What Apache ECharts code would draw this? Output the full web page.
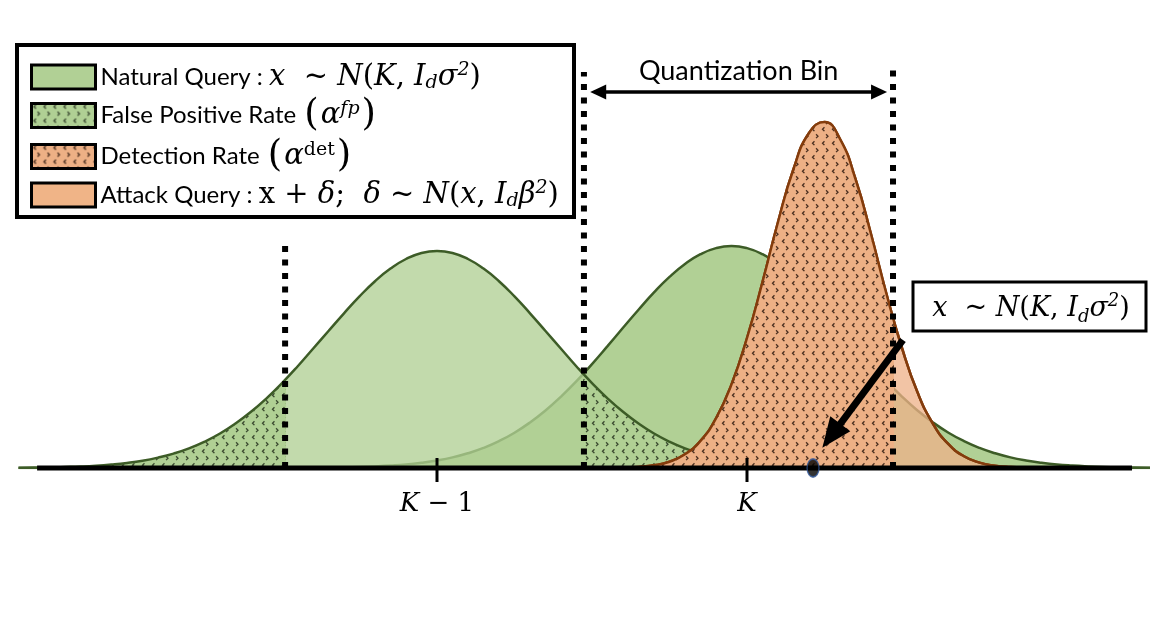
<!DOCTYPE html>
<html>
<head>
<meta charset="utf-8">
<script src="https://cdn.jsdelivr.net/npm/echarts@6/dist/echarts.min.js"></script>
<style>
html,body{margin:0;padding:0;background:#fff;}
#c{width:1168px;height:634px;}
</style>
</head>
<body>
<div id="c"></div>
<script>
// ---------------- data ----------------
// x in units where K = 0 and K-1 = -1 (sampled every 0.05)
const naturalX = [-2.35,-2.30,-2.25,-2.20,-2.15,-2.10,-2.05,-2.00,-1.95,-1.90,-1.85,-1.80,-1.75,-1.70,-1.65,-1.60,-1.55,-1.50,
  -1.45,-1.40,-1.35,-1.30,-1.25,-1.20,-1.15,-1.10,-1.05,-1.00,-0.95,-0.90,-0.85,-0.80,-0.75,-0.70,-0.65,-0.60,-0.55,-0.50,
  -0.45,-0.40,-0.35,-0.30,-0.25,-0.20,-0.15,-0.10,-0.05,0.00,0.05,0.10,0.15,0.20,0.25,0.30,0.35,0.40,0.45,0.50,0.55,0.60,
  0.65,0.70,0.75,0.80,0.85,0.90,0.95,1.00,1.05,1.10,1.15,1.20,1.25,1.30];
// natural-query density around K-1
const naturalPrevY = [0.002,0.004,0.006,0.010,0.015,0.023,0.035,0.051,0.073,0.104,0.144,0.196,0.263,0.345,0.445,0.562,0.697,0.849,
  1.015,1.192,1.370,1.547,1.716,1.868,1.994,2.090,2.150,2.170,2.150,2.090,1.994,1.868,1.716,1.547,1.370,1.192,1.015,0.849,
  0.697,0.562,0.445,0.345,0.263,0.196,0.144,0.104,0.073,0.051,0.035,0.023,0.015,0.010,0.006,0.004,0.002,0.001,0,0,0,0,
  0,0,0,0,0,0,0,0,0,0,0,0,0,0];
// natural-query density around K
const naturalY = [0,0,0,0,0,0,0,0,0,0,0,0,0,0,0,0,0,0,
  0.001,0.002,0.004,0.006,0.010,0.016,0.024,0.035,0.052,0.075,0.106,0.148,0.201,0.269,0.353,0.455,0.575,0.714,0.868,1.039,
  1.219,1.402,1.583,1.756,1.911,2.040,2.138,2.199,2.220,2.199,2.138,2.040,1.911,1.756,1.583,1.402,1.219,1.039,0.868,0.714,0.575,0.455,
  0.353,0.269,0.201,0.148,0.106,0.075,0.052,0.035,0.024,0.016,0.010,0.006,0.004,0.002];
// attack-query density
const attackX = [-0.45,-0.40,-0.35,-0.30,-0.25,-0.20,-0.15,-0.10,-0.05,0.00,0.05,0.10,0.15,0.20,0.25,0.30,0.35,0.40,0.45,0.50,0.55,0.60,0.65,0.70,0.75,0.80,0.85,0.90,0.95];
const attackY = [0.001,0.004,0.011,0.027,0.063,0.137,0.271,0.496,0.836,1.30,1.86,2.46,2.99,3.35,3.46,3.29,2.89,2.34,1.74,1.20,0.757,0.442,0.238,0.118,0.054,0.023,0.009,0.003,0.001];
// quantization bin edges (dotted lines) and their heights
const binEdges = [-1.49, -0.526, 0.471];
const binEdgeTops = [2.25, 3.96, 4.0];
// axis ticks (value, bottom, top)
const tickValues = [-1, 0];
const tickSpan = [-0.14, 0.10];
const tickLabels = ['{i|K}{n| − 1}', '{i|K}'];
// baseline extent
const axisSpan = [-2.29, 1.242];
// sample point x
const samplePoint = [[0.213, 0]];
// "Quantization Bin" double arrow
const binArrowX = [-0.48, 0.426];
const binArrowY = 3.76;
// pointer arrow from the annotation to the sample
const pointerFrom = [0.503, 1.28];
const pointerTo = [0.272, 0.322];
// legend entries
const legendNames = ['Natural Query', 'False Positive Rate', 'Detection Rate', 'Attack Query'];
const legendTexts = {
  'Natural Query': '{t|Natural Query : }{m|x}{r|  ~ }{m|N}{r|(}{m|K}{r|, }{m|I}{sub|d}{m|σ}{sup|2}{r|)}',
  'False Positive Rate': '{t|False Positive Rate }{P|(}{m|α}{sup|fp}{P|)}',
  'Detection Rate': '{t|Detection Rate }{P|(}{m|α}{supr|det}{P|)}',
  'Attack Query': '{t|Attack Query : }{r|x + }{m|δ}{r|;  }{m|δ}{r| ~ }{m|N}{r|(}{m|x}{r|, }{m|I}{sub|d}{m|β}{sup|2}{r|)}'
};
const annotationText = '{m|x}{r|  ~ }{m|N}{r|(}{m|K}{r|, }{m|I}{sub|d}{m|σ}{sup|2}{r|)}';

// ---------------- styling ----------------
const MATH = "'DejaVu Serif', serif";
const TXT = "Lato, 'Open Sans', sans-serif";
const GREEN = '#b1d095';
const GREEN_LINE = '#3d5c27';
const ORANGE_LINE = '#843c0c';
const ORANGE_FILL = 'rgba(238,178,137,0.76)';

function hatch(bg, fg) {
  const c = document.createElement('canvas');
  c.width = 10; c.height = 14;
  const g = c.getContext('2d');
  g.fillStyle = bg; g.fillRect(0, 0, 10, 14);
  g.strokeStyle = fg; g.lineWidth = 1.3; g.lineCap = 'square';
  g.beginPath();
  g.moveTo(4.0, 1.7); g.lineTo(2.5, 3.2); g.lineTo(4.0, 4.7);
  g.moveTo(6.5, 8.7); g.lineTo(8.0, 10.2); g.lineTo(6.5, 11.7);
  g.stroke();
  return { image: c, repeat: 'repeat' };
}
const hatchG = hatch('#b0d094', '#3b4a30');
const hatchO = hatch('#edb085', '#4a2f20');

function mathRich(s, textSize, lh, parenScale) {
  const sm = Math.round(s * 0.66);
  return {
    t: { fontFamily: TXT, fontSize: textSize, lineHeight: lh, color: '#000' },
    m: { fontFamily: MATH, fontStyle: 'italic', fontSize: s, lineHeight: lh, color: '#000' },
    r: { fontFamily: MATH, fontSize: s, lineHeight: lh, color: '#000' },
    P: { fontFamily: MATH, fontSize: Math.round(s * parenScale), lineHeight: lh, color: '#000', padding: [0, 2, 0, 2] },
    sub: { fontFamily: MATH, fontStyle: 'italic', fontSize: sm, lineHeight: Math.round(lh * 0.47), verticalAlign: 'bottom', color: '#000' },
    sup: { fontFamily: MATH, fontStyle: 'italic', fontSize: sm, lineHeight: Math.round(lh * 0.62), verticalAlign: 'top', color: '#000' },
    supr: { fontFamily: MATH, fontSize: sm, lineHeight: Math.round(lh * 0.62), verticalAlign: 'top', color: '#000' }
  };
}

// ---------------- layout ----------------
const W = 1168;
const X_MIN = -2.4, X_MAX = 1.35, Y_MAX = 4;
const PLOT = { left: 3, right: 2.5, top: 68, bottom: 166 };
const unit = (W - PLOT.left - PLOT.right) / (X_MAX - X_MIN);
const xpx = v => PLOT.left + (v - X_MIN) * unit;
const ranges = [[X_MIN, X_MAX], [X_MIN, binEdges[0]], [binEdges[1], X_MAX], [binEdges[1], binEdges[2]]];
const grids = ranges.map(r => ({
  left: xpx(r[0]), right: W - xpx(r[1]), top: PLOT.top, bottom: PLOT.bottom,
  outerBoundsMode: 'none', containLabel: false
}));
const xAxes = ranges.map((r, i) => {
  if (i > 0) return { gridIndex: i, type: 'value', min: r[0], max: r[1], show: false };
  return {
    gridIndex: 0, type: 'value', min: r[0], max: r[1], z: 15,
    axisLine: { show: false }, splitLine: { show: false },
    axisTick: { show: false },
    axisLabel: {
      show: true, customValues: tickValues, margin: 21,
      formatter: v => tickLabels[tickValues.indexOf(v)],
      rich: {
        i: { fontFamily: MATH, fontStyle: 'italic', fontSize: 26, lineHeight: 30, color: '#000' },
        n: { fontFamily: MATH, fontSize: 26, lineHeight: 30, color: '#000' }
      }
    }
  };
});
const yAxes = ranges.map((r, i) => ({ gridIndex: i, type: 'value', min: 0, max: Y_MAX, show: false }));

const pts = (xs, ys) => xs.map((x, i) => [x, ys[i]]);
const curve = { type: 'line', smooth: 0.5, symbol: 'none', showSymbol: false, silent: true, animation: false, emphasis: { disabled: true } };
const noLine = { opacity: 0, width: 0 };

const series = [
  Object.assign({}, curve, { name: 'Natural Query', color: GREEN, data: pts(naturalX, naturalY), lineStyle: { color: GREEN_LINE, width: 2.5 }, areaStyle: { color: GREEN, opacity: 1 }, z: 2 }),
  Object.assign({}, curve, { name: 'Natural Query', color: GREEN, data: pts(naturalX, naturalPrevY), lineStyle: noLine, areaStyle: { color: GREEN, opacity: 0.78 }, z: 3 }),
  Object.assign({}, curve, { name: 'False Positive Rate', xAxisIndex: 1, yAxisIndex: 1, data: pts(naturalX, naturalPrevY), lineStyle: noLine, areaStyle: { color: hatchG, opacity: 1 }, z: 4 }),
  Object.assign({}, curve, { name: 'False Positive Rate', xAxisIndex: 2, yAxisIndex: 2, data: pts(naturalX, naturalPrevY), lineStyle: noLine, areaStyle: { color: hatchG, opacity: 1 }, z: 4 }),
  Object.assign({}, curve, { name: 'Natural Query', color: GREEN, data: pts(naturalX, naturalPrevY), lineStyle: { color: GREEN_LINE, width: 2.5 }, z: 5 }),
  Object.assign({}, curve, { name: 'Attack Query', color: '#f0b487', data: pts(attackX, attackY), lineStyle: { color: ORANGE_LINE, width: 2.5 }, areaStyle: { color: ORANGE_FILL, opacity: 1 }, z: 6 }),
  Object.assign({}, curve, { name: 'Detection Rate', xAxisIndex: 3, yAxisIndex: 3, data: pts(attackX, attackY), lineStyle: noLine, areaStyle: { color: hatchO, opacity: 1 }, z: 7 }),
  Object.assign({}, curve, { name: 'Attack Query', color: '#f0b487', data: pts(attackX, attackY), lineStyle: { color: ORANGE_LINE, width: 2.5 }, z: 8 })
];
binEdges.forEach((e, i) => {
  series.push({
    type: 'line', name: 'bin edge ' + (i + 1), data: [[e, 0], [e, binEdgeTops[i]]], symbol: 'none', clip: false, silent: true,
    lineStyle: { color: '#000', width: 6, type: [6, 7.5], cap: 'butt' }, z: 9, animation: false
  });
});
tickValues.forEach((v, i) => {
  series.push({
    type: 'line', name: 'tick ' + (i + 1), data: tickSpan.map(y => [v, y]), symbol: 'none', clip: false, silent: true,
    lineStyle: { color: '#000', width: 3 }, z: 11, animation: false
  });
});
series.push({
  type: 'line', name: 'baseline', data: axisSpan.map(x => [x, 0]), symbol: 'none', clip: false, silent: true,
  lineStyle: { color: '#000', width: 5 }, z: 10, animation: false,
  markLine: {
    silent: true, animation: false, z: 15, symbol: ['triangle', 'triangle'], symbolSize: [15, 16],
    lineStyle: { color: '#000', width: 3.5, type: 'solid' },
    emphasis: { disabled: true },
    label: { show: true, position: 'insideMiddleTop', distance: 7, formatter: 'Quantization Bin', color: '#000', fontFamily: TXT, fontSize: 27 },
    data: [[{ coord: [binArrowX[0], binArrowY] }, { coord: [binArrowX[1], binArrowY] }]]
  }
});
series.push({
  type: 'scatter', name: 'sample x', data: samplePoint, symbol: 'circle', symbolSize: [12, 18], clip: false, silent: true,
  itemStyle: { color: '#000', borderColor: '#2f5597', borderWidth: 1.5 }, z: 12, animation: false,
  markLine: {
    silent: true, animation: false, z: 16, symbol: ['none', 'triangle'], symbolSize: [25, 30],
    lineStyle: { color: '#000', width: 7, type: 'solid' },
    emphasis: { disabled: true },
    label: { show: false },
    data: [[{ coord: pointerFrom }, { coord: pointerTo }]]
  }
});

const legendStyles = {
  'Natural Query': { color: GREEN, borderColor: '#000', borderWidth: 3 },
  'False Positive Rate': { color: hatchG, borderColor: '#000', borderWidth: 3 },
  'Detection Rate': { color: hatchO, borderColor: '#000', borderWidth: 3 },
  'Attack Query': { color: '#f0b487', borderColor: '#000', borderWidth: 3 }
};

const option = {
  animation: false,
  backgroundColor: '#fff',
  textStyle: { fontFamily: TXT },
  grid: grids,
  xAxis: xAxes,
  yAxis: yAxes,
  legend: {
    orient: 'vertical', left: 30, top: 61, padding: 0, itemGap: 4,
    itemWidth: 64, itemHeight: 24, icon: 'rect', selectedMode: false,
    data: legendNames.map(n => ({ name: n, icon: 'rect', itemStyle: legendStyles[n] })),
    formatter: n => legendTexts[n],
    textStyle: { color: '#000', fontFamily: TXT, fontSize: 24, rich: mathRich(29, 24, 32, 1.28) }
  },
  graphic: [
    { type: 'rect', silent: true, z: 1, shape: { x: 17, y: 45, width: 557, height: 172 }, style: { fill: '#fff', stroke: '#000', lineWidth: 4 } },
    { type: 'rect', silent: true, z: 20, shape: { x: 913, y: 282, width: 233, height: 49 }, style: { fill: '#fff', stroke: '#000', lineWidth: 3 } },
    { type: 'text', silent: true, z: 21, x: 1031, y: 309,
      style: { text: annotationText, rich: mathRich(27, 23, 34, 1.18), align: 'center', verticalAlign: 'middle', textAlign: 'center', textVerticalAlign: 'middle', fill: '#000' } }
  ],
  series: series
};

const chart = echarts.init(document.getElementById('c'), null, { renderer: 'canvas' });
chart.setOption(option);
</script>
</body>
</html>
